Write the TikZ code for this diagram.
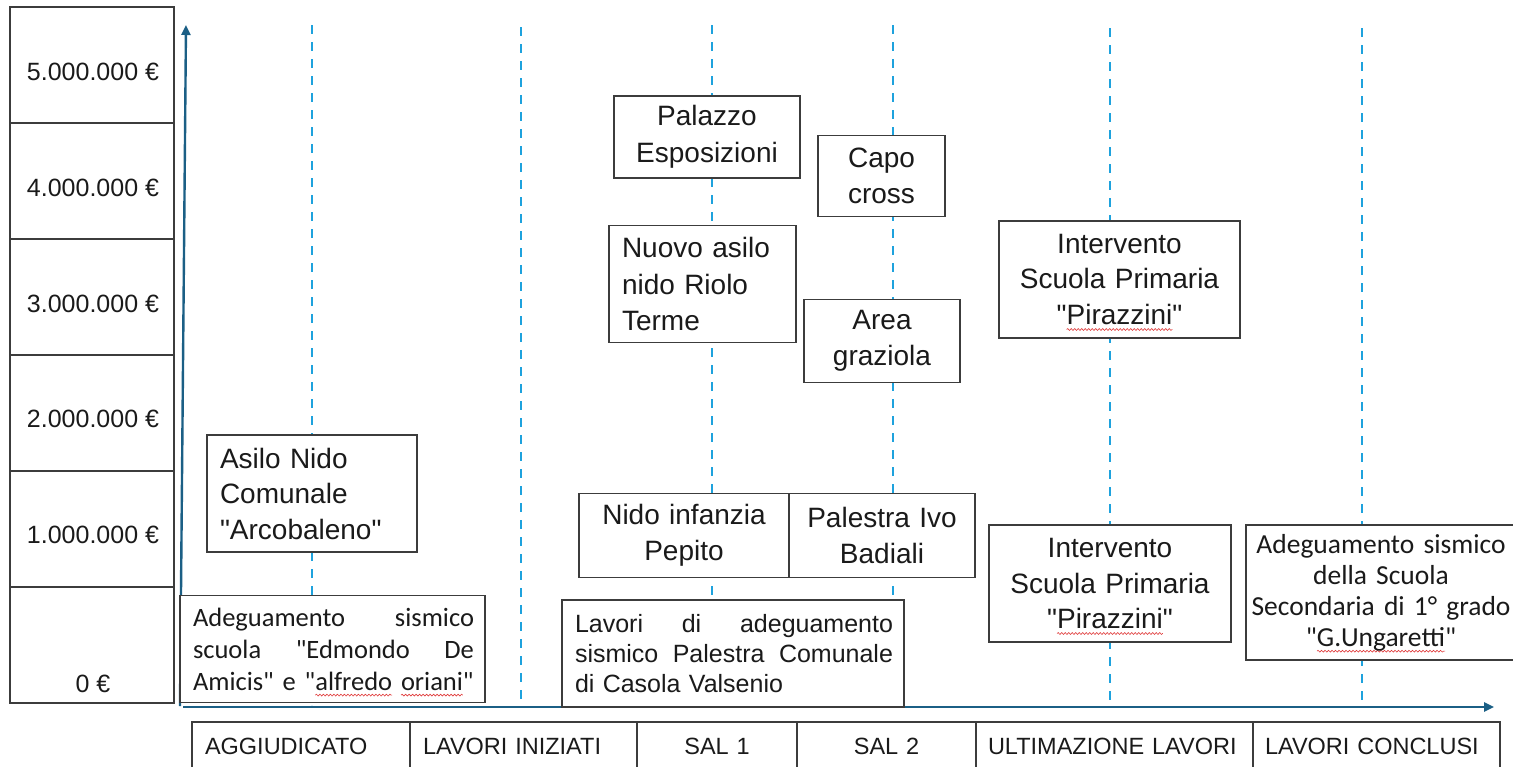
\documentclass[tikz,border=0pt]{standalone}
\usepackage{fontspec}
\newfontfamily\lib{Liberation Sans}
\newfontfamily\calib{Carlito}
\usetikzlibrary{arrows.meta,decorations.pathmorphing}
\definecolor{axisblue}{HTML}{1B5F85}
\definecolor{dashblue}{HTML}{1EA2DD}
\definecolor{boxline}{HTML}{3C3C3C}
\definecolor{txt}{HTML}{1A1A1A}
\definecolor{wavered}{HTML}{E03A3A}
\newcommand\qq{\symbol{34}}
\newcommand\redwave[1]{\setbox0\hbox{#1}\rlap{\tikz[overlay,x=1pt,y=1pt]\draw[wavered,line width=0.6pt,decorate,decoration={snake,amplitude=0.9pt,segment length=3.5pt}] (0,-5) -- (\the\wd0,-5);}\box0\relax}
\newcommand\spread[2]{\makebox[#1][l]{#2}}
\begin{document}
\lib
\begin{tikzpicture}[x=1pt,y=-1pt,
  box/.style={draw=boxline, line width=1.3pt, fill=white, text=txt, inner xsep=13pt, inner ysep=0pt,
              font=\lib\fontsize{28}{35.5}\selectfont},
  dims/.style 2 args={minimum width=#1pt, minimum height=#2pt, text width=#1pt-26pt},
  lcell/.style={draw=boxline, line width=1.8pt, minimum width=164pt, minimum height=116pt, inner sep=0pt},
  lab/.style={text=txt, font=\lib\fontsize{25}{30}\selectfont, inner sep=0pt},
  tcell/.style={draw=boxline, line width=1.8pt, minimum height=48pt, inner xsep=13pt, inner ysep=0pt,
                text=txt, font=\lib\fontsize{23.5}{28}\selectfont},
  dashline/.style={dashblue, line width=2pt, dash pattern=on 9pt off 8pt},
  axis/.style={axisblue, line width=2.4pt, -{Triangle[width=9pt,length=10pt]}}
]
\useasboundingbox (0,0) rectangle (1513,766);

% left scale column
\node[lcell] (r5) at (92,65) {};
\node[lcell] (r4) at (92,181) {};
\node[lcell] (r3) at (92,297) {};
\node[lcell] (r2) at (92,413) {};
\node[lcell] (r1) at (92,529) {};
\node[lcell] (r0) at (92,645) {};
\node[lab] (l5) at (93,72) {5.000.000 €};
\node[lab] (l4) at (93,188) {4.000.000 €};
\node[lab] (l3) at (93,304) {3.000.000 €};
\node[lab] (l2) at (93,419) {2.000.000 €};
\node[lab] (l1) at (93,535) {1.000.000 €};
\node[lab] (l0) at (93,684) {0 €};

% dashed guide lines
\draw[dashline] (312,25) -- (312,705);
\draw[dashline] (521,27) -- (521,705);
\draw[dashline] (712,25) -- (712,705);
\draw[dashline] (893,25) -- (893,705);
\draw[dashline] (1110,28) -- (1110,705);
\draw[dashline] (1362,28) -- (1362,705);

% axes
\coordinate (o) at (180,706);
\coordinate (ytop) at (186,25);
\coordinate (xs) at (183,707);
\coordinate (xend) at (1494,707);
\draw[axis] (o) -- (ytop);
\draw[axis] (xs) -- (xend);

% boxes
\node[box, dims={210}{117}, align=left] (arcobaleno) at (312,493.5) {Asilo Nido\\Comunale\\\qq Arcobaleno\qq};
\node[box, dims={305}{107}, inner xsep=12pt, align=left, font=\calib\fontsize{26.5}{32}\selectfont] (deamicis) at (332.5,649)
  {\spread{281pt}{Adeguamento\hfill sismico}\\\spread{281pt}{scuola\hfill\qq Edmondo\hfill De}\\\spread{281pt}{Amicis\qq{} e \qq\redwave{alfredo} \redwave{oriani}\qq\hfill}};
\node[box, dims={186}{82}, align=center, font=\lib\fontsize{28}{37}\selectfont] (palazzo) at (707,137) {Palazzo\\Esposizioni};
\node[box, dims={127}{81}, align=center, inner xsep=4pt, text width=119pt] (capo) at (881.5,176) {Capo\\cross};
\node[box, dims={187}{117}, align=left, font=\lib\fontsize{28}{36.5}\selectfont] (riolo) at (702.5,284) {Nuovo asilo\\nido Riolo\\Terme};
\node[box, dims={156}{83}, align=center] (area) at (882,341) {Area\\graziola};
\node[box, dims={241}{117}, align=center] (pir1) at (1119.5,279.5) {Intervento\\Scuola Primaria\\\qq\redwave{Pirazzini}\qq};
\node[box, dims={210}{84}, align=center] (pepito) at (684,535.5) {Nido infanzia\\Pepito};
\node[box, dims={186}{84}, align=center] (badiali) at (882,535.5) {Palestra Ivo\\Badiali};
\node[box, dims={342}{107}, inner xsep=11pt, align=left, font=\lib\fontsize{25}{30}\selectfont] (casola) at (733,653.5)
  {\spread{318pt}{Lavori\hfill di\hfill adeguamento}\\\spread{318pt}{sismico\hfill Palestra\hfill Comunale}\\di Casola Valsenio};
\node[box, dims={242}{117}, align=center] (pir2) at (1110,583.5) {Intervento\\Scuola Primaria\\\qq\redwave{Pirazzini}\qq};
\node[box, minimum width=270pt, minimum height=135pt, text width=262pt, inner xsep=4pt, align=center,
      font=\calib\fontsize{27.5}{31}\selectfont] (ungaretti) at (1381,592.5)
  {Adeguamento sismico\\della Scuola\\Secondaria di 1° grado\\\qq\redwave{G.Ungaretti}\qq};

% bottom phase table
\node[tcell, minimum width=218pt, text width=192pt, align=left] (t1) at (301,746) {AGGIUDICATO};
\node[tcell, minimum width=227pt, text width=201pt, align=left] (t2) at (523.5,746) {LAVORI INIZIATI};
\node[tcell, minimum width=160pt, text width=134pt, align=center] (t3) at (717,746) {SAL 1};
\node[tcell, minimum width=179pt, text width=153pt, align=center] (t4) at (886.5,746) {SAL 2};
\node[tcell, minimum width=277pt, inner xsep=12pt, text width=253pt, align=left] (t5) at (1114.5,746) {ULTIMAZIONE LAVORI};
\node[tcell, minimum width=247pt, inner xsep=12pt, text width=223pt, align=left] (t6) at (1376.5,746) {LAVORI CONCLUSI};
\end{tikzpicture}
\end{document}
